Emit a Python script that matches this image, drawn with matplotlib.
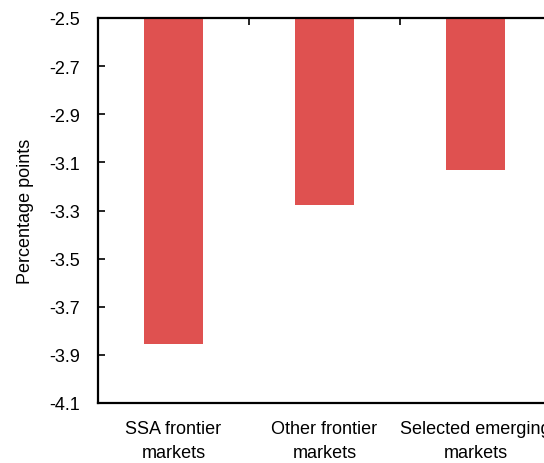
import matplotlib
matplotlib.use("Agg")
import matplotlib.pyplot as plt
import numpy as np
from matplotlib import font_manager

categories = ["SSA frontier\nmarkets", "Other frontier\nmarkets", "Selected emerging\nmarkets"]
values = [-3.855, -3.276, -3.130]
yticks = [-4.1, -3.9, -3.7, -3.5, -3.3, -3.1, -2.9, -2.7, -2.5]

names = {f.name for f in font_manager.fontManager.ttflist}
fam = "Liberation Sans Narrow" if "Liberation Sans Narrow" in names else "Liberation Sans"
plt.rcParams["font.family"] = [fam, "DejaVu Sans"]

fig = plt.figure(figsize=(5.44, 4.64), dpi=100)
ax = fig.add_axes([98/544, 1-404/464, (551-98)/544, (404-19)/464])

x = np.arange(len(categories))
ax.bar(x, values, width=0.39, color="#DF5150", edgecolor="none")
ax.set_xlim(-0.5, 2.5)
ax.set_ylim(-4.1, -2.5)
ax.set_yticks(yticks)
ax.set_yticklabels([f"{v:.1f}" for v in yticks], fontsize=13)
ax.tick_params(axis="y", direction="in", length=5, width=1.2, pad=13, left=True, right=False)

ax.set_xticks(x)
ax.set_xticklabels(categories, fontsize=13, linespacing=1.55)
ax.tick_params(axis="x", which="major", bottom=False, top=False, length=0, pad=12)
ax.set_xticks([0.5, 1.5], minor=True)
ax.tick_params(axis="x", which="minor", bottom=False, top=True, direction="in", length=5, width=1.2)

for s in ["top", "left", "bottom"]:
    ax.spines[s].set_linewidth(1.6)
    ax.spines[s].set_color("black")
ax.spines["right"].set_visible(False)

ax.set_ylabel("Percentage points", fontsize=13, labelpad=11)

fig.savefig("out.png", dpi=100)
